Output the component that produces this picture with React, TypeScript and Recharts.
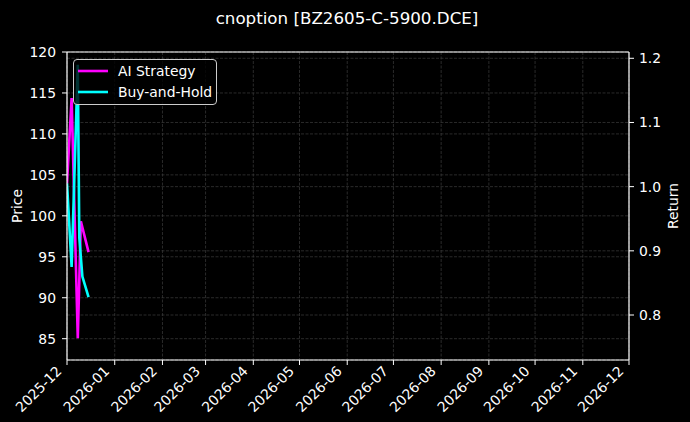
import React from "react";
import {
  LineChart,
  Line,
  XAxis,
  YAxis,
  CartesianGrid,
  Legend,
  ReferenceLine,
} from "recharts";

if (typeof document !== "undefined") {
  document.body.style.margin = "0";
  document.body.style.background = "#000";
}

const TITLE = "cnoption [BZ2605-C-5900.DCE]";
const FONT = "DejaVu Sans";

// Trading dates (only these appear in the reference)
const dates = [
  "2025-12-01",
  "2025-12-04",
  "2025-12-08",
  "2025-12-09",
  "2025-12-10",
  "2025-12-11",
  "2025-12-15",
];
// Cumulative return series (right axis)
const aiStrategy: (number | null)[] = [1.005, 1.138, 0.764, null, 0.946, null, 0.898];
const buyAndHold: (number | null)[] = [1.005, 0.875, 1.19, 0.92, null, 0.86, 0.828];

const monthTicks = [
  "2025-12-01",
  "2026-01-01",
  "2026-02-01",
  "2026-03-01",
  "2026-04-01",
  "2026-05-01",
  "2026-06-01",
  "2026-07-01",
  "2026-08-01",
  "2026-09-01",
  "2026-10-01",
  "2026-11-01",
  "2026-12-01",
];
const priceTicks = [85, 90, 95, 100, 105, 110, 115, 120];
const returnTicks = [0.8, 0.9, 1.0, 1.1, 1.2];
const priceDomain: [number, number] = [82.4, 120];
const returnDomain: [number, number] = [0.7299, 1.2098];

const toDay = (d: string) => Date.parse(d + "T00:00:00Z") / 86400000;
const fmtMonth = (v: number) => {
  const dt = new Date(Math.round(v) * 86400000);
  const m = dt.getUTCMonth() + 1;
  return `${dt.getUTCFullYear()}-${m < 10 ? "0" + m : m}`;
};

const data = dates.map((d, i) => ({
  t: toDay(d),
  ai: aiStrategy[i],
  bh: buyAndHold[i],
}));
const xTicks = monthTicks.map(toDay);
const xDomain: [number, number] = [xTicks[0], xTicks[xTicks.length - 1]];

const XTick = (props: any) => {
  const { x, y, payload } = props;
  const ax = x - 4.5;
  const ay = y + 5;
  return (
    <text
      x={ax}
      y={ay}
      transform={`rotate(-45, ${ax}, ${ay})`}
      textAnchor="end"
      fill="#fff"
      fontSize={13.9}
      fontFamily={FONT}
    >
      {fmtMonth(payload.value)}
    </text>
  );
};

const renderLegend = (props: any) => {
  const items = (props.payload || []) as any[];
  return (
    <div
      style={{
        width: 144,
        height: 46,
        boxSizing: "border-box",
        border: "1px solid #cccccc",
        borderRadius: 4,
        background: "rgba(0,0,0,0.8)",
        position: "relative",
        fontFamily: FONT,
        fontSize: 13.9,
        color: "#fff",
      }}
    >
      {items.map((e, i) => (
        <div
          key={e.value}
          style={{
            position: "absolute",
            left: 4,
            top: 1 + i * 21,
            height: 20,
            display: "flex",
            alignItems: "center",
            whiteSpace: "nowrap",
          }}
        >
          <svg width={30} height={4} style={{ display: "block" }}>
            <line x1={0} y1={2} x2={30} y2={2} stroke={e.color} strokeWidth={2.6} />
          </svg>
          <span style={{ marginLeft: 10 }}>{e.value}</span>
        </div>
      ))}
    </div>
  );
};

const LeftLabel = (props: any) => {
  const vb = props.viewBox || {};
  const x = vb.x + 22;
  const y = vb.y + vb.height / 2;
  return (
    <text
      x={x}
      y={y}
      transform={`rotate(-90, ${x}, ${y})`}
      textAnchor="middle"
      fill="#fff"
      fontSize={13.9}
      fontFamily={FONT}
    >
      Price
    </text>
  );
};

const RightLabel = (props: any) => {
  const vb = props.viewBox || {};
  const x = vb.x + 49;
  const y = vb.y + vb.height / 2;
  return (
    <text
      x={x}
      y={y}
      transform={`rotate(-90, ${x}, ${y})`}
      textAnchor="middle"
      fill="#fff"
      fontSize={13.9}
      fontFamily={FONT}
    >
      Return
    </text>
  );
};

export default function App() {
  return (
    <div style={{ width: 690, height: 422, background: "#000" }}>
      <LineChart
        width={690}
        height={422}
        data={data}
        margin={{ top: 52, right: 0, bottom: 0, left: 0 }}
        style={{ background: "#000" }}
      >
        <text
          x={347}
          y={23.5}
          textAnchor="middle"
          fill="#fff"
          fontSize={16.7}
          fontFamily={FONT}
        >
          {TITLE}
        </text>
        <CartesianGrid
          xAxisId="x"
          yAxisId="left"
          stroke="#3c3c3c"
          strokeWidth={0.7}
          strokeDasharray="3 1.5"
        />
        <CartesianGrid
          xAxisId="x"
          yAxisId="right"
          vertical={false}
          stroke="#3c3c3c"
          strokeWidth={0.7}
          strokeDasharray="3 1.5"
        />
        <XAxis
          xAxisId="x"
          dataKey="t"
          type="number"
          domain={xDomain}
          ticks={xTicks}
          interval={0}
          allowDataOverflow
          height={62}
          tickSize={5}
          tickMargin={2}
          tick={<XTick />}
          stroke="#fff"
          axisLine={{ stroke: "#fff", strokeWidth: 1.2 }}
          tickLine={{ stroke: "#fff" }}
        />
        <YAxis
          yAxisId="left"
          orientation="left"
          type="number"
          domain={priceDomain}
          ticks={priceTicks}
          interval={0}
          allowDataOverflow
          width={67}
          tickSize={5}
          tickMargin={6}
          tick={{ fill: "#fff", fontSize: 13.9, fontFamily: FONT }}
          axisLine={{ stroke: "#fff", strokeWidth: 1.2 }}
          tickLine={{ stroke: "#fff" }}
          label={<LeftLabel />}
        />
        <YAxis
          yAxisId="right"
          orientation="right"
          type="number"
          domain={returnDomain}
          ticks={returnTicks}
          interval={0}
          allowDataOverflow
          width={61}
          tickSize={5}
          tickMargin={5}
          tickFormatter={(v: number) => v.toFixed(1)}
          tick={{ fill: "#fff", fontSize: 13.9, fontFamily: FONT }}
          axisLine={{ stroke: "#fff", strokeWidth: 1.2 }}
          tickLine={{ stroke: "#fff" }}
          label={<RightLabel />}
        />
        <ReferenceLine
          xAxisId="x"
          yAxisId="left"
          y={priceDomain[1]}
          stroke="#fff"
          strokeWidth={1.2}
        />
        <Line
          xAxisId="x"
          yAxisId="right"
          type="linear"
          dataKey="ai"
          name="AI Strategy"
          stroke="#ff00ff"
          strokeWidth={2.6}
          dot={false}
          connectNulls
          isAnimationActive={false}
        />
        <Line
          xAxisId="x"
          yAxisId="right"
          type="linear"
          dataKey="bh"
          name="Buy-and-Hold"
          stroke="#00ffff"
          strokeWidth={2.6}
          dot={false}
          connectNulls
          isAnimationActive={false}
        />
        <Legend
          layout="horizontal"
          align="center"
          verticalAlign="middle"
          content={renderLegend}
          wrapperStyle={{ left: 73, top: 59, width: 144, height: 46 }}
        />
      </LineChart>
    </div>
  );
}
